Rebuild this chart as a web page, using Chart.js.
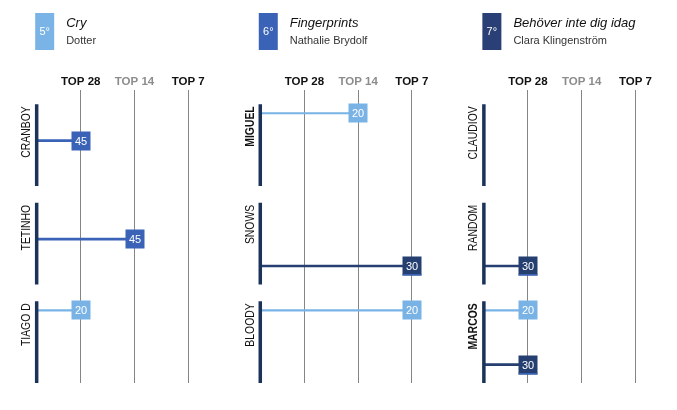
<!DOCTYPE html>
<html><head><meta charset="utf-8">
<script src="https://cdn.jsdelivr.net/npm/chart.js@4/dist/chart.umd.min.js"></script>
<style>html,body{margin:0;padding:0;background:#fff}canvas{display:block}</style>
</head><body>
<canvas id="c" width="677" height="410"></canvas>
<script>
// ---- data ----
const RANKS   = ['5°', '6°', '7°'];
const SONGS   = ['Cry', 'Fingerprints', 'Behöver inte dig idag'];
const ARTISTS = ['Dotter', 'Nathalie Brydolf', 'Clara Klingenström'];
const ROUNDS  = ['TOP 28', 'TOP 14', 'TOP 7'];
const JUDGES  = [['CRANBOY', 'TETINHO', 'TIAGO D'], ['MIGUEL', 'SNOWS', 'BLOODY'], ['CLAUDIOV', 'RANDOM', 'MARCOS']];
const BOLD_JUDGES = ['MIGUEL', 'MARCOS'];
// one entry per vote
const VOTE_PANEL  = [0, 0, 0, 1, 1, 1, 2, 2, 2];
const VOTE_JUDGE  = [0, 1, 2, 0, 1, 2, 1, 2, 2];
const VOTE_SONG   = [1, 1, 0, 0, 2, 0, 2, 0, 2];
const VOTE_ROUND  = [0, 1, 0, 1, 2, 2, 0, 0, 0];
const VOTE_POINTS = [45, 45, 20, 20, 30, 20, 30, 20, 30];

// ---- style / layout ----
const SONG_COLORS = ['#79b3e5', '#3a63b7', '#253f70'];
const HEAD_COLORS = ['#7ab4e6', '#3a63b7', '#293f75'];
const BAR_COLOR = '#1b3358';
const PANEL_STEP = 4.16;
const JUDGE_X = 0.18;
const SLOT_Y = [0.232, 0.51, 0.783];
const BLOCK_TOP = 0.141, BLOCK_BOTTOM = 0.97;
const FONT = '"Liberation Sans", Arial, sans-serif';

const datasets = [];
JUDGES.forEach((list, p) => list.forEach((name, j) => {
  datasets.push({
    data: [{x: p * PANEL_STEP + JUDGE_X, y: j + BLOCK_TOP}, {x: p * PANEL_STEP + JUDGE_X, y: j + BLOCK_BOTTOM}],
    showLine: true, borderColor: BAR_COLOR, borderWidth: 3.5, pointRadius: 0, clip: false,
    borderCapStyle: 'butt', judgeName: name
  });
}));
VOTE_POINTS.forEach((pts, i) => {
  const p = VOTE_PANEL[i], j = VOTE_JUDGE[i], s = VOTE_SONG[i], r = VOTE_ROUND[i];
  datasets.push({
    data: [{x: p * PANEL_STEP + JUDGE_X, y: j + SLOT_Y[s]}, {x: p * PANEL_STEP + 1 + r, y: j + SLOT_Y[s]}],
    showLine: true, borderColor: SONG_COLORS[s], borderWidth: s === 0 ? 2.2 : 2.6, pointRadius: 0, clip: false,
    votePoints: pts, song: s
  });
});

const tickValues = [];
for (let p = 0; p < 3; p++) for (let r = 0; r < 3; r++) tickValues.push(p * PANEL_STEP + 1 + r);

const overlay = {
  id: 'overlay',
  afterDatasetsDraw(chart) {
    const ctx = chart.ctx;
    const xs = chart.scales.x;
    ctx.save();
    chart.data.datasets.forEach((ds, di) => {
      const meta = chart.getDatasetMeta(di);
      if (ds.judgeName) {
        const el = meta.data[0];
        ctx.save();
        ctx.translate(el.x - 10, el.y + 2);
        ctx.rotate(-Math.PI / 2);
        ctx.scale(0.8, 1);
        ctx.font = (BOLD_JUDGES.includes(ds.judgeName) ? 'bold ' : '') + '13px ' + FONT;
        ctx.fillStyle = '#111';
        ctx.textAlign = 'right';
        ctx.textBaseline = 'middle';
        ctx.fillText(ds.judgeName, 0, 0);
        ctx.restore();
      } else if (ds.votePoints !== undefined) {
        const el = meta.data[1];
        const x = Math.round(el.x), y = Math.round(el.y);
        ctx.fillStyle = SONG_COLORS[ds.song];
        ctx.fillRect(x - 9.5, y - 9.5, 19, 19);
        if (ds.song === 2) {
          ctx.fillStyle = SONG_COLORS[1];
          ctx.fillRect(x - 9.5, y + 8, 19, 1.5);
        }
        ctx.fillStyle = '#fff';
        ctx.font = '11px ' + FONT;
        ctx.textAlign = 'center';
        ctx.textBaseline = 'middle';
        ctx.fillText(String(ds.votePoints), x, y + 0.5);
      }
    });
    // headers
    for (let p = 0; p < 3; p++) {
      const bx = xs.getPixelForValue(p * PANEL_STEP + JUDGE_X) - 1.5;
      ctx.fillStyle = HEAD_COLORS[p];
      ctx.fillRect(bx, 13, 19, 37);
      ctx.fillStyle = '#fff';
      ctx.font = '11px ' + FONT;
      ctx.textAlign = 'center';
      ctx.textBaseline = 'middle';
      ctx.fillText(RANKS[p], bx + 9.5, 32);
      ctx.textAlign = 'left';
      ctx.textBaseline = 'alphabetic';
      ctx.fillStyle = '#111';
      ctx.font = 'italic 13px ' + FONT;
      ctx.fillText(SONGS[p], bx + 31, 27);
      ctx.fillStyle = '#333';
      ctx.font = '11px ' + FONT;
      ctx.fillText(ARTISTS[p], bx + 31, 44);
    }
    ctx.restore();
  }
};

new Chart(document.getElementById('c'), {
  type: 'scatter',
  data: {datasets},
  options: {
    responsive: false, animation: false, devicePixelRatio: 1,
    layout: {padding: {top: 72.6, bottom: 27, left: 27, right: 5}},
    plugins: {legend: {display: false}, tooltip: {enabled: false}},
    elements: {line: {tension: 0}},
    scales: {
      x: {
        type: 'linear', position: 'top', min: 0, max: 12,
        afterBuildTicks: s => { s.ticks = tickValues.map(v => ({value: v})); },
        ticks: {
          autoSkip: false, maxRotation: 0, padding: 2,
          font: {family: FONT, size: 11.5, weight: 'bold'},
          color: c => (c.index % 3 === 1 ? '#8c8c8c' : '#111'),
          callback: (v, i) => ROUNDS[i % 3]
        },
        grid: {color: '#858585', lineWidth: 1, drawTicks: false},
        border: {display: false}
      },
      y: {type: 'linear', display: false, reverse: true, min: 0, max: 2.97}
    }
  },
  plugins: [overlay]
});
</script>
</body></html>
